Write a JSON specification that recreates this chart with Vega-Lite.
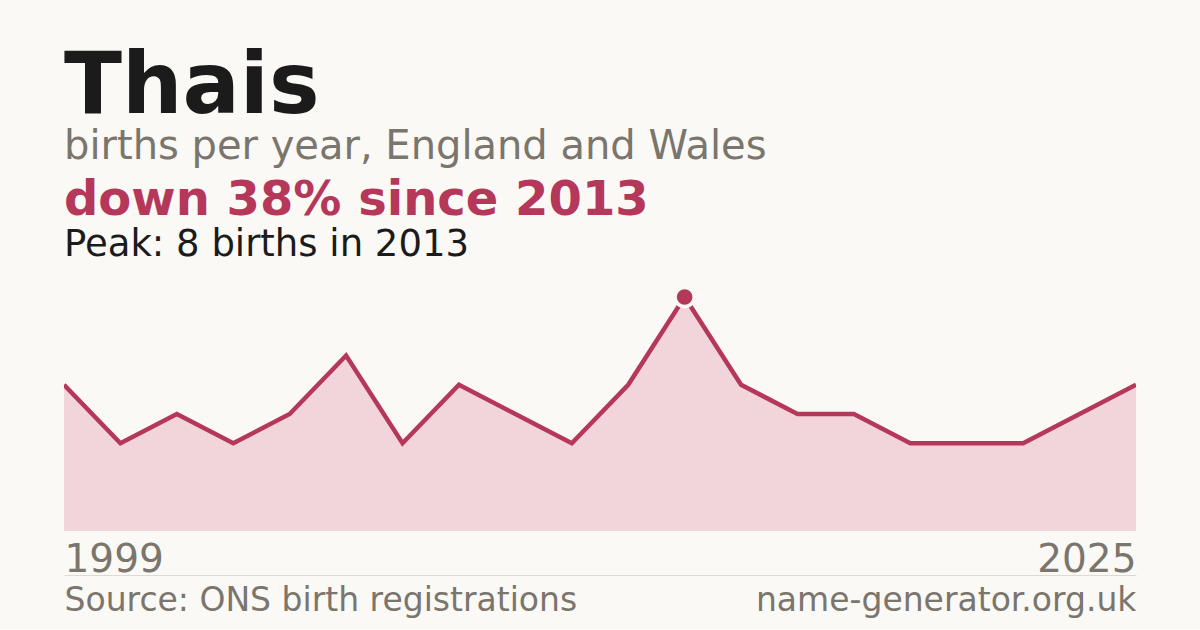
{
  "$schema": "https://vega.github.io/schema/vega-lite/v6.json",
  "background": "#faf9f5",
  "padding": {"left": 64, "right": 64, "top": 45, "bottom": 12},
  "autosize": {"type": "pad"},
  "title": {
    "text": "Thais",
    "subtitle": "births per year, England and Wales",
    "anchor": "start",
    "font": "DejaVu Sans",
    "fontSize": 85,
    "fontWeight": "bold",
    "color": "#1b1b1b",
    "subtitleFont": "DejaVu Sans",
    "subtitleFontSize": 40,
    "subtitleColor": "#7a756d",
    "subtitlePadding": -4,
    "offset": 9
  },
  "data": {
    "values": [
      {"year": 1999, "births": 5},
      {"year": 2000, "births": 3},
      {"year": 2001, "births": 4},
      {"year": 2003, "births": 3},
      {"year": 2004, "births": 4},
      {"year": 2005, "births": 6},
      {"year": 2007, "births": 3},
      {"year": 2008, "births": 5},
      {"year": 2009, "births": 4},
      {"year": 2010, "births": 3},
      {"year": 2012, "births": 5},
      {"year": 2013, "births": 8},
      {"year": 2014, "births": 5},
      {"year": 2015, "births": 4},
      {"year": 2017, "births": 4},
      {"year": 2019, "births": 3},
      {"year": 2020, "births": 3},
      {"year": 2021, "births": 3},
      {"year": 2023, "births": 4},
      {"year": 2025, "births": 5}
    ]
  },
  "vconcat": [
    {
      "width": 1072,
      "height": 234,
      "title": {
        "text": "down 38% since 2013",
        "subtitle": "Peak: 8 births in 2013",
        "anchor": "start",
        "font": "DejaVu Sans",
        "fontSize": 48,
        "fontWeight": "bold",
        "color": "#b5385a",
        "subtitleFont": "DejaVu Sans",
        "subtitleFontSize": 37,
        "subtitleColor": "#1b1b1b",
        "subtitlePadding": 2,
        "offset": 17
      },
      "encoding": {
        "x": {
          "field": "year",
          "type": "ordinal",
          "scale": {"type": "point", "padding": 0},
          "axis": {
            "orient": "bottom",
            "offset": 44,
            "values": [1999, 2025],
            "ticks": false,
            "grid": false,
            "domain": true,
            "domainColor": "#dddad3",
            "domainWidth": 1,
            "labelFont": "DejaVu Sans",
            "labelFontSize": 39,
            "labelColor": "#7a756d",
            "labelPadding": -4,
            "labelBaseline": "alphabetic",
            "labelAngle": 0,
            "labelOverlap": false,
            "labelAlign": {"condition": {"test": "datum.value == 1999", "value": "left"}, "value": "right"},
            "title": "Source: ONS birth registrations",
            "titleFont": "DejaVu Sans",
            "titleFontSize": 33,
            "titleFontWeight": "normal",
            "titleColor": "#7a756d",
            "titleAnchor": "start",
            "titleAlign": "left",
            "titleBaseline": "alphabetic",
            "titleX": 0,
            "titleY": 35
          }
        }
      },
      "layer": [
        {
          "mark": {"type": "area", "color": "#f2d5db", "clip": true},
          "encoding": {
            "y": {"field": "births", "type": "quantitative", "scale": {"domain": [0, 8], "nice": false}, "axis": null}
          }
        },
        {
          "mark": {"type": "line", "color": "#b5385a", "strokeWidth": 4.5, "clip": true},
          "encoding": {
            "y": {
              "field": "births",
              "type": "quantitative",
              "scale": {"domain": [0, 8], "nice": false},
              "axis": {
                "orient": "right",
                "labels": false,
                "ticks": false,
                "domain": false,
                "grid": false,
                "title": "name-generator.org.uk",
                "titleFont": "DejaVu Sans",
                "titleFontSize": 33,
                "titleFontWeight": "normal",
                "titleColor": "#7a756d",
                "titleAngle": 0,
                "titleAlign": "right",
                "titleBaseline": "alphabetic",
                "titleX": 0,
                "titleY": 313
              }
            }
          }
        },
        {
          "transform": [{"filter": "datum.year == 2013"}],
          "mark": {"type": "point", "shape": "circle", "filled": true, "size": 370, "color": "#b5385a", "stroke": "#faf9f5", "strokeWidth": 3.6, "opacity": 1},
          "encoding": {
            "y": {"field": "births", "type": "quantitative", "scale": {"domain": [0, 8], "nice": false}, "axis": null}
          }
        }
      ],
      "resolve": {"axis": {"y": "independent"}}
    }
  ],
  "config": {
    "view": {"stroke": null},
    "concat": {"spacing": 0},
    "axis": {"grid": false}
  }
}
